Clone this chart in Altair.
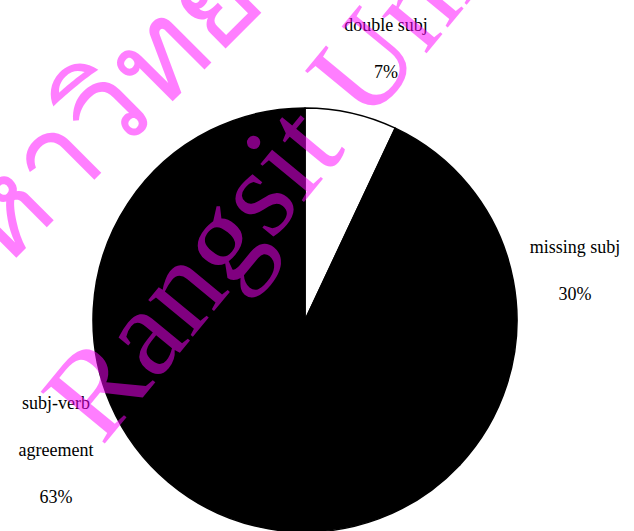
import math
import altair as alt
import pandas as pd

# ---- data ----
categories = ["double subj", "missing subj", "subj-verb agreement"]
values = [7, 30, 63]
label_lines = [["double subj", "7%"], ["missing subj", "30%"], ["subj-verb", "agreement", "63%"]]
fills = ["white", "black", "black"]
watermark_en = "Rangsit University"
watermark_th = "มหาวิทยาลัยรังสิต"

df = pd.DataFrame({
    "category": categories,
    "value": values,
    "order": list(range(len(categories))),
    "label": label_lines,
})

CX, CY, R = 305, 320, 212
total = sum(values)

pie = alt.Chart(df).mark_arc(outerRadius=R, stroke="black", strokeWidth=1.5, strokeJoin="round").encode(
    theta=alt.Theta("value:Q", stack=True),
    order=alt.Order("order:Q"),
    color=alt.Color("category:N", scale=alt.Scale(domain=categories, range=fills), legend=None),
    x=alt.value(CX),
    y=alt.value(CY),
)

# label placement: slice mid angle (from data) plus small tweaks
tweaks = {
    "double subj": dict(radius=280, dx=20, dy=-21),
    "missing subj": dict(radius=277, dx=-2, dy=-20),
    "subj-verb agreement": dict(radius=280, dx=8, dy=-27),
}
label_layers = []
cum = 0
for cat, v in zip(categories, values):
    mid = (cum + v / 2) / total * 2 * math.pi
    cum += v
    t = tweaks[cat]
    label_layers.append(
        alt.Chart(df).transform_filter(alt.datum.category == cat).mark_text(
            theta=mid, radius=t["radius"], dx=t["dx"], dy=t["dy"],
            font="Liberation Serif", fontSize=18, color="black",
            align="center", baseline="middle", lineHeight=47,
        ).encode(text="label", x=alt.value(CX), y=alt.value(CY))
    )

wm_th = alt.Chart(pd.DataFrame({"t": [watermark_th]})).mark_text(
    font="Noto Sans", fontSize=125, fontWeight="normal", color="#ff00ff", opacity=0.5,
    angle=315, align="left", baseline="alphabetic",
).encode(text="t:N", x=alt.value(-56), y=alt.value(330))

wm_en = alt.Chart(pd.DataFrame({"t": [watermark_en]})).mark_text(
    font="Liberation Serif", fontSize=126, color="#ff00ff", opacity=0.5,
    angle=309.5, align="left", baseline="alphabetic",
).encode(text="t:N", x=alt.value(102), y=alt.value(447))

chart = alt.layer(pie, *label_layers, wm_th, wm_en).properties(
    width=634, height=531, autosize="none", padding=0, background="white"
).configure_view(stroke=None)

chart.save("out.html", embed_options={"renderer": "svg", "actions": False})
